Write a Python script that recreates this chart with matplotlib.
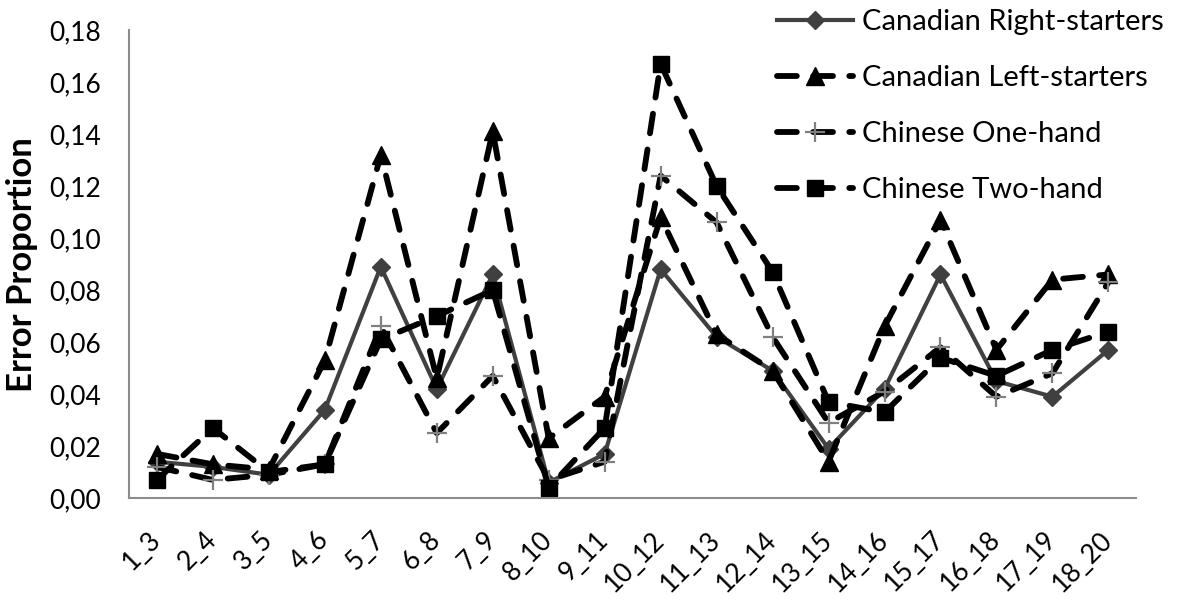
import matplotlib
matplotlib.use("Agg")
import matplotlib.pyplot as plt
from matplotlib.ticker import FuncFormatter, MultipleLocator

plt.rcParams['font.family'] = ['Lato', 'DejaVu Sans']

# -----------------------------------------------------------------------------------
#                                  Data
# -----------------------------------------------------------------------------------

pairs = ["1_3", "2_4", "3_5", "4_6", "5_7", "6_8", "7_9", "8_10", "9_11",
         "10_12", "11_13", "12_14", "13_15", "14_16", "15_17", "16_18", "17_19", "18_20"]

right_starters = [0.014, 0.012, 0.009, 0.034, 0.089, 0.042, 0.086, 0.006, 0.017,
                  0.088, 0.062, 0.049, 0.019, 0.042, 0.086, 0.045, 0.039, 0.057]
left_starters = [0.017, 0.013, 0.011, 0.053, 0.132, 0.046, 0.141, 0.023, 0.039,
                 0.108, 0.063, 0.049, 0.014, 0.066, 0.107, 0.057, 0.084, 0.086]
one_hand = [0.012, 0.007, 0.009, 0.013, 0.066, 0.025, 0.047, 0.007, 0.014,
            0.124, 0.106, 0.062, 0.029, 0.041, 0.058, 0.039, 0.048, 0.083]
two_hand = [0.007, 0.027, 0.010, 0.013, 0.061, 0.070, 0.080, 0.004, 0.027,
            0.167, 0.120, 0.087, 0.037, 0.033, 0.054, 0.047, 0.057, 0.064]

# -----------------------------------------------------------------------------------
#                                  Plot
# -----------------------------------------------------------------------------------

fig = plt.figure(figsize=(11.81, 6.06), dpi=100)
ax = fig.add_axes([0.1092, 0.178, 0.853, 0.7725])

x = range(len(pairs))
dash = (0, (3.4, 2.8))

ax.plot(x, right_starters, color="#404040", lw=3, marker="D", markersize=9,
        label="Canadian Right-starters")
ax.plot(x, left_starters, color="black", lw=4.2, linestyle=dash, dash_capstyle="round",
        marker="^", markersize=13, label="Canadian Left-starters")
ax.plot(x, one_hand, color="black", lw=4.2, linestyle=dash, dash_capstyle="round",
        marker="+", markersize=15, markeredgewidth=1.6, markeredgecolor="#808080",
        label="Chinese One-hand")
ax.plot(x, two_hand, color="black", lw=4.2, linestyle=dash, dash_capstyle="round",
        marker="s", markersize=11.5, label="Chinese Two-hand")

ax.set_xlim(-0.5, 17.5)
ax.set_ylim(0, 0.18)
ax.yaxis.set_major_locator(MultipleLocator(0.02))
ax.yaxis.set_major_formatter(FuncFormatter(lambda v, p: f"{v:.2f}".replace(".", ",")))

ax.set_xticks(list(x))
ax.set_xticklabels(pairs, rotation=45, ha="right", va="center", rotation_mode="anchor")
ax.tick_params(axis="x", length=0, pad=27, labelsize=19)
ax.tick_params(axis="y", length=0, pad=20, labelsize=19)

for side in ["top", "right"]:
    ax.spines[side].set_visible(False)
for side in ["left", "bottom"]:
    ax.spines[side].set_color("#8c8c8c")
    ax.spines[side].set_linewidth(1.5)

ax.set_ylabel("Error Proportion", fontsize=25, fontweight="bold", labelpad=8)

fig.legend(loc="upper left", bbox_to_anchor=(0.636, 1.028), frameon=False,
           fontsize=21, handlelength=2.6, handletextpad=0.3, labelspacing=1.03)

plt.savefig("out.png", dpi=100)
